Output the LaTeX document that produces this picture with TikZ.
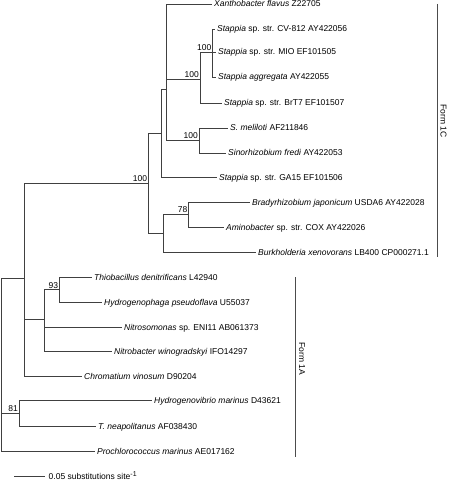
\documentclass[tikz,border=0pt]{standalone}
\usepackage{fontspec}
\setmainfont{Liberation Sans}
\begin{document}
\begin{tikzpicture}[x=1pt,y=-1pt,
  br/.style={draw=black!75, line width=0.7pt},
  leaf/.style={anchor=west, inner xsep=2pt, inner ysep=0pt, text height=6.3pt, text depth=0.3pt, font=\fontsize{8.5}{10}\selectfont},
  boot/.style={anchor=south east, inner sep=1pt, font=\fontsize{8.5}{10}\selectfont},
  formbar/.style={draw=black!70, line width=0.9pt},
  formlab/.style={rotate=-90, inner sep=0pt, font=\fontsize{8.5}{10}\selectfont}]
\useasboundingbox (0,0) rectangle (448,481);

% internal nodes
\coordinate (R) at (1.5,413);
\coordinate (H) at (24.3,278);
\coordinate (K) at (19,413);
\coordinate (A) at (148.3,183);
\coordinate (I) at (44.3,319);
\coordinate (J) at (59.3,289.5);
\coordinate (B) at (161,133);
\coordinate (C) at (163.3,233);
\coordinate (D) at (166,89);
\coordinate (E) at (200,79);
\coordinate (F) at (199,140);
\coordinate (G) at (212.5,52);
\coordinate (N) at (188.5,214);

% leaves
\node[leaf] (xan) at (212,4) {\textit{Xanthobacter flavus} Z22705};
\node[leaf] (cv) at (215,29) {\textit{Stappia} sp. str. CV-812 AY422056};
\node[leaf] (mio) at (216,52) {\textit{Stappia} sp. str. MIO EF101505};
\node[leaf] (agg) at (216,77) {\textit{Stappia aggregata} AY422055};
\node[leaf] (brt) at (222,103) {\textit{Stappia} sp. str. BrT7 EF101507};
\node[leaf] (mel) at (228,128) {\textit{S. meliloti} AF211846};
\node[leaf] (fre) at (226,153) {\textit{Sinorhizobium fredi} AY422053};
\node[leaf] (ga) at (217,177) {\textit{Stappia} sp. str. GA15 EF101506};
\node[leaf] (bra) at (250,202) {\textit{Bradyrhizobium japonicum} USDA6 AY422028};
\node[leaf] (ami) at (224,227) {\textit{Aminobacter} sp. str. COX AY422026};
\node[leaf] (bur) at (256,252) {\textit{Burkholderia xenovorans} LB400 CP000271.1};
\node[leaf] (thi) at (92,277) {\textit{Thiobacillus denitrificans} L42940};
\node[leaf] (hyd) at (102,302) {\textit{Hydrogenophaga pseudoflava} U55037};
\node[leaf] (nso) at (122,327) {\textit{Nitrosomonas} sp. ENI11 AB061373};
\node[leaf] (nba) at (112,351) {\textit{Nitrobacter winogradskyi} IFO14297};
\node[leaf] (chr) at (82,376) {\textit{Chromatium vinosum} D90204};
\node[leaf] (hvi) at (152,400) {\textit{Hydrogenovibrio marinus} D43621};
\node[leaf] (tne) at (96,426) {\textit{T. neapolitanus} AF038430};
\node[leaf] (pro) at (95,451) {\textit{Prochlorococcus marinus} AE017162};

% branches
\draw[br] (R) |- (H);
\draw[br] (R) |- (K);
\draw[br] (R) |- (pro.west);
\draw[br] (H) |- (A);
\draw[br] (H) |- (I);
\draw[br] (H) |- (chr.west);
\draw[br] (I) |- (J);
\draw[br] (I) |- (nso.west);
\draw[br] (I) |- (nba.west);
\draw[br] (J) |- (thi.west);
\draw[br] (J) |- (hyd.west);
\draw[br] (K) |- (hvi.west);
\draw[br] (K) |- (tne.west);
\draw[br] (A) |- (B);
\draw[br] (A) |- (C);
\draw[br] (B) |- (D);
\draw[br] (B) |- (ga.west);
\draw[br] (D) |- (xan.west);
\draw[br] (D) |- (E);
\draw[br] (D) |- (F);
\draw[br] (E) |- (G);
\draw[br] (E) |- (brt.west);
\draw[br] (G) |- (cv.west);
\draw[br] (G) |- (mio.west);
\draw[br] (G) |- (agg.west);
\draw[br] (F) |- (mel.west);
\draw[br] (F) |- (fre.west);
\draw[br] (C) |- (N);
\draw[br] (C) |- (bur.west);
\draw[br] (N) |- (bra.west);
\draw[br] (N) |- (ami.west);

% bootstrap values
\node[boot] (bA) at (A) {100};
\node[boot] (bG) at (G) {100};
\node[boot] (bE) at (E) {100};
\node[boot] (bF) at (F) {100};
\node[boot] (bN) at (N) {78};
\node[boot] (bJ) at (J) {93};
\node[boot] (bK) at (K) {81};

% scale bar
\coordinate (s1) at (14,476);
\node[leaf, inner xsep=3.5pt] (sl) at (45,476) {0.05 substitutions site{\fontsize{7}{8}\selectfont\raisebox{3pt}{-1}}};
\draw[br] (s1) -- (sl.west);

% form brackets
\coordinate (c1t) at (437,4);
\coordinate (c1b) at (437,257);
\draw[formbar] (c1t) -- (c1b);
\node[formlab] (f1c) at (443.5,121) {Form 1C};
\coordinate (a1t) at (295,277);
\coordinate (a1b) at (295,457);
\draw[formbar] (a1t) -- (a1b);
\node[formlab] (f1a) at (302,359) {Form 1A};
\end{tikzpicture}
\end{document}
